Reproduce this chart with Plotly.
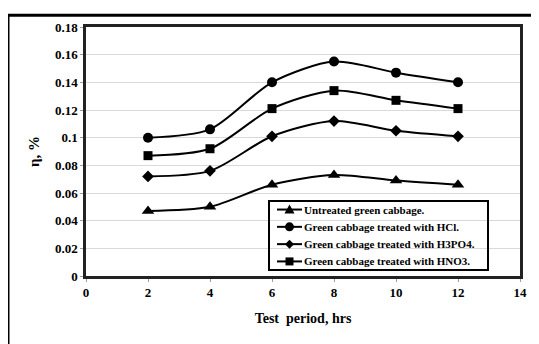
import plotly.graph_objects as go

hours = [2, 4, 6, 8, 10, 12]
untreated = [0.047, 0.050, 0.066, 0.073, 0.069, 0.066]
hcl = [0.100, 0.106, 0.140, 0.155, 0.147, 0.140]
h3po4 = [0.072, 0.076, 0.101, 0.112, 0.105, 0.101]
hno3 = [0.087, 0.092, 0.121, 0.134, 0.127, 0.121]

x_tick_vals = [0, 2, 4, 6, 8, 10, 12, 14]
x_tick_labels = ["0", "2", "4", "6", "8", "10", "12", "14"]
y_tick_vals = [0, 0.02, 0.04, 0.06, 0.08, 0.10, 0.12, 0.14, 0.16, 0.18]
y_tick_labels = ["0", "0.02", "0.04", "0.06", "0.08", "0.1", "0.12", "0.14", "0.16", "0.18"]

series = [
    ("Untreated green cabbage.", untreated, "triangle-up", 11),
    ("Green cabbage treated with HCl.", hcl, "circle", 10),
    ("Green cabbage treated with H3PO4.", h3po4, "diamond", 9),
    ("Green cabbage treated with HNO3.", hno3, "square", 9),
]

FONT = "Liberation Serif, Times New Roman, serif"

# page offset (browser body margin) compensation
OFF = 8
PL, PT, PW, PH = 86, 24, 434, 252   # plot area on page


def px(X):
    return (X - PL) / PW


def py(Y):
    return (PT + PH - Y) / PH


fig = go.Figure()
for name, vals, sym, size in series:
    fig.add_trace(go.Scatter(
        x=hours, y=vals, name=name, mode="lines+markers", showlegend=False,
        line=dict(color="black", width=2, shape="spline", smoothing=0.8),
        marker=dict(symbol=sym, size=size, color="black"),
    ))

fig.update_layout(
    width=539, height=344,
    margin=dict(l=PL - OFF, r=539 - (PL - OFF) - PW, t=PT - OFF, b=344 - (PT - OFF) - PH),
    paper_bgcolor="white", plot_bgcolor="white",
    font=dict(family=FONT, color="black", size=12),
    showlegend=False,
    xaxis=dict(
        range=[0, 14], tickvals=x_tick_vals, ticktext=["<b>" + t + "</b>" for t in x_tick_labels],
        showgrid=False, zeroline=False,
        ticks="outside", ticklen=3, tickcolor="#a0a0a0",
        showline=True, linecolor="#222222", linewidth=2.5, mirror=True,
        tickfont=dict(family=FONT, size=13, color="black", weight="bold"),
        title=dict(text="<b>Test  period, hrs</b>", font=dict(family=FONT, size=14), standoff=14),
    ),
    yaxis=dict(
        range=[0, 0.18], tickvals=y_tick_vals, ticktext=["<b>" + t + "</b>" for t in y_tick_labels],
        showgrid=True, gridcolor="#d9d9d9", gridwidth=1,
        zeroline=False, ticks="outside", ticklen=3, tickcolor="#a0a0a0",
        showline=True, linecolor="#222222", linewidth=2.5, mirror=True,
        tickfont=dict(family=FONT, size=13, color="black", weight="bold"),
        title=dict(text="<b>η, %</b>", font=dict(family=FONT, size=15), standoff=12),
    ),
)

# outer chart frame (left and top edges visible)
fig.add_shape(type="rect", xref="paper", yref="paper",
              x0=px(8), x1=1.2, y0=-0.6, y1=py(12),
              line=dict(color="black", width=3), fillcolor="rgba(0,0,0,0)", layer="above")

# custom legend box
LX0, LX1, LY0, LY1 = 269, 488, 200, 270
fig.add_shape(type="rect", xref="paper", yref="paper",
              x0=px(LX0), x1=px(LX1), y0=py(LY1), y1=py(LY0),
              line=dict(color="black", width=2), fillcolor="rgba(0,0,0,0)")
row_h = (LY1 - LY0) / len(series)
for i, (name, vals, sym, size) in enumerate(series):
    yc = LY0 + row_h * (i + 0.5)
    fig.add_shape(type="line", xref="paper", yref="paper",
                  x0=px(277), x1=px(302), y0=py(yc), y1=py(yc),
                  line=dict(color="black", width=2))
    xa, ya = px(289.5), py(yc)
    common = dict(xref="paper", yref="paper", xsizemode="pixel", ysizemode="pixel",
                  xanchor=xa, yanchor=ya, fillcolor="black", line=dict(color="black", width=0))
    if sym == "circle":
        fig.add_shape(type="circle", x0=-4.5, x1=4.5, y0=-4.5, y1=4.5, **common)
    elif sym == "square":
        fig.add_shape(type="rect", x0=-4, x1=4, y0=-4, y1=4, **common)
    elif sym == "diamond":
        fig.add_shape(type="path", path="M -4.5 0 L 0 4.5 L 4.5 0 L 0 -4.5 Z", **common)
    else:
        fig.add_shape(type="path", path="M -5 -4 L 5 -4 L 0 5 Z", **common)
    fig.add_annotation(xref="paper", yref="paper", x=px(302), y=py(yc),
                       xanchor="left", yanchor="middle", showarrow=False,
                       text="<b>" + name + "</b>",
                       font=dict(family=FONT, size=11, color="black"))

fig.write_html("out.html")
